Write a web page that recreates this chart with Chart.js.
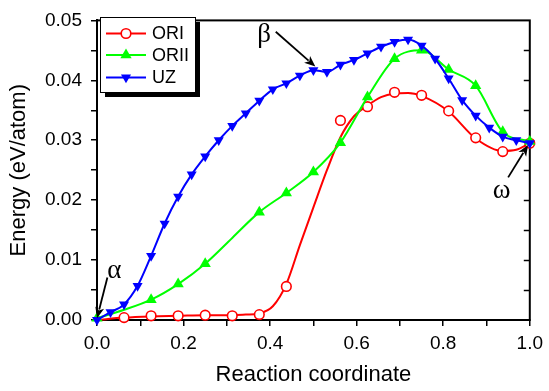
<!DOCTYPE html>
<html>
<head>
<meta charset="utf-8">
<script src="https://cdn.jsdelivr.net/npm/chart.js@4/dist/chart.umd.min.js"></script>
<style>
  html, body { margin: 0; padding: 0; background: #fff; }
  #wrap { width: 549px; height: 391px; }
</style>
</head>
<body>
<div id="wrap"><canvas id="c" width="549" height="391"></canvas></div>
<script>
// ---------- DATA ----------
const seriesNames = ['ORI', 'ORII', 'UZ'];

// ORI: open-circle markers
const oriX = [0.0625, 0.125, 0.1875, 0.25, 0.3125, 0.375, 0.4375, 0.5625, 0.625, 0.6875, 0.75, 0.8125, 0.875, 0.9375, 1.0];
const oriY = [0.0004, 0.0007, 0.0007, 0.0008, 0.0007, 0.0009, 0.0056, 0.0333, 0.0356, 0.0380, 0.0375, 0.0349, 0.0304, 0.0281, 0.0295];
// ORI: smooth fitted curve
const oriCurveX = [0, 0.0625, 0.125, 0.1875, 0.25, 0.3125, 0.34375, 0.375, 0.40625, 0.4375, 0.46875, 0.5, 0.53125, 0.5625, 0.59375, 0.625, 0.65625, 0.6875, 0.71875, 0.75, 0.8125, 0.875, 0.9375, 0.96875, 1.0];
const oriCurveY = [0, 0.0004, 0.0006, 0.0007, 0.0008, 0.0008, 0.0009, 0.0011, 0.0023, 0.0060, 0.0125, 0.0188, 0.0250, 0.0305, 0.0340, 0.0358, 0.0372, 0.0378, 0.0379, 0.0374, 0.0348, 0.0303, 0.0282, 0.0284, 0.0295];

// ORII: triangle-up markers (markerShown = 0 where no marker is visible)
const oriiX = [0, 0.0625, 0.125, 0.1875, 0.25, 0.3125, 0.375, 0.4375, 0.5, 0.5625, 0.625, 0.6875, 0.75, 0.8125, 0.875, 0.9375, 1.0];
const oriiY = [0.0003, 0.0017, 0.0034, 0.0060, 0.0094, 0.0137, 0.0180, 0.0212, 0.0247, 0.0296, 0.0372, 0.0436, 0.0450, 0.0418, 0.0391, 0.0314, 0.0298];
const oriiMarkerShown = [1, 0, 1, 1, 1, 0, 1, 1, 1, 1, 1, 1, 1, 1, 1, 1, 1];

// UZ: triangle-down markers
const uzX = [0, 0.03125, 0.0625, 0.09375, 0.125, 0.15625, 0.1875, 0.21875, 0.25, 0.28125, 0.3125, 0.34375, 0.375, 0.40625, 0.4375, 0.46875, 0.5, 0.53125, 0.5625, 0.59375, 0.625, 0.65625, 0.6875, 0.71875, 0.75, 0.78125, 0.8125, 0.84375, 0.875, 0.90625, 0.9375, 0.96875, 1.0];
const uzY = [0, 0.0013, 0.0026, 0.0057, 0.0107, 0.0161, 0.0206, 0.0243, 0.0273, 0.0300, 0.0324, 0.0345, 0.0366, 0.0385, 0.0395, 0.0408, 0.0417, 0.0414, 0.0426, 0.0434, 0.0445, 0.0456, 0.0464, 0.0468, 0.0458, 0.0436, 0.0403, 0.0367, 0.0341, 0.0321, 0.0306, 0.0300, 0.0295];

// Annotations (data coordinates): label, text position, arrow start, arrow tip
const annLabels = ['α', 'β', 'ω'];
const annText  = [[0.040, 0.0082], [0.386, 0.0475], [0.935, 0.0216]];
const annFrom  = [[0.024, 0.0071], [0.413, 0.0481], [0.950, 0.0238]];
const annTo    = [[0.000, 0.0003], [0.5045, 0.0423], [0.996, 0.0292]];

const xTickLabels = ['0.0', '0.2', '0.4', '0.6', '0.8', '1.0'];
const yTickLabels = ['0.00', '0.01', '0.02', '0.03', '0.04', '0.05'];

// ---------- STYLE ----------
const RED = '#ff0000', GREEN = '#00ff00', BLUE = '#0000ff';
const FONT = '"Liberation Sans", Arial, sans-serif';

const pts = (xs, ys) => xs.map((x, i) => ({ x: x, y: ys[i] }));

function drawArrow(ctx, x1, y1, x2, y2) {
  const ang = Math.atan2(y2 - y1, x2 - x1);
  const hl = 11, hw = 4.5;
  const bx = x2 - hl * Math.cos(ang), by = y2 - hl * Math.sin(ang);
  ctx.beginPath();
  ctx.moveTo(x1, y1);
  ctx.lineTo(bx + 2 * Math.cos(ang), by + 2 * Math.sin(ang));
  ctx.lineWidth = 1.8;
  ctx.strokeStyle = '#000';
  ctx.stroke();
  ctx.beginPath();
  ctx.moveTo(x2, y2);
  ctx.lineTo(bx + hw * Math.sin(ang), by - hw * Math.cos(ang));
  ctx.lineTo(bx + 3 * Math.cos(ang), by + 3 * Math.sin(ang));
  ctx.lineTo(bx - hw * Math.sin(ang), by + hw * Math.cos(ang));
  ctx.closePath();
  ctx.fillStyle = '#000';
  ctx.fill();
}

const framePlugin = {
  id: 'frame',
  beforeDatasetsDraw(chart) {
    const { ctx, chartArea: a, scales } = chart;
    ctx.save();
    ctx.strokeStyle = '#000';
    ctx.lineWidth = 2;
    ctx.strokeRect(a.left, a.top, a.right - a.left, a.bottom - a.top);
    // inward ticks on the right axis
    ctx.lineWidth = 1.5;
    const ys = scales.y;
    for (let i = 1; i < 10; i++) {
      const py = Math.round(ys.getPixelForValue(i * 0.005)) + 0.5;
      ctx.beginPath();
      ctx.moveTo(a.right, py);
      ctx.lineTo(a.right - 6, py);
      ctx.stroke();
    }
    ctx.restore();
  },
  afterDraw(chart) {
    const { ctx, scales } = chart;
    const xs = scales.x, ys = scales.y;
    ctx.save();
    // annotations
    ctx.font = '27px "Liberation Serif", "Times New Roman", serif';
    ctx.fillStyle = '#000';
    ctx.textAlign = 'center';
    ctx.textBaseline = 'middle';
    for (let i = 0; i < annLabels.length; i++) {
      ctx.fillText(annLabels[i], xs.getPixelForValue(annText[i][0]), ys.getPixelForValue(annText[i][1]));
      drawArrow(ctx,
        xs.getPixelForValue(annFrom[i][0]), ys.getPixelForValue(annFrom[i][1]),
        xs.getPixelForValue(annTo[i][0]), ys.getPixelForValue(annTo[i][1]));
    }
    // legend box
    const L = 100, T = 17, W = 95, H = 75, S = 5;
    ctx.fillStyle = '#000';
    ctx.fillRect(L + S, T + S, W, H);
    ctx.fillStyle = '#fff';
    ctx.fillRect(L, T, W, H);
    ctx.strokeStyle = '#000';
    ctx.lineWidth = 1;
    ctx.strokeRect(L + 0.5, T + 0.5, W, H);
    const rowY = [33.5, 55, 77.5];
    const cols = [RED, GREEN, BLUE];
    ctx.font = '18px ' + FONT;
    ctx.textAlign = 'left';
    ctx.textBaseline = 'middle';
    for (let i = 0; i < 3; i++) {
      const y = rowY[i];
      ctx.strokeStyle = cols[i];
      ctx.lineWidth = 2;
      ctx.beginPath();
      ctx.moveTo(106, y);
      ctx.lineTo(146, y);
      ctx.stroke();
      ctx.beginPath();
      if (i === 0) {
        ctx.arc(126, y, 4.8, 0, Math.PI * 2);
        ctx.fillStyle = '#fff';
        ctx.fill();
        ctx.lineWidth = 1.6;
        ctx.stroke();
      } else {
        const r = i === 1 ? 6.5 : 5.8;
        const dir = i === 1 ? -1 : 1;
        ctx.moveTo(126, y + dir * r);
        ctx.lineTo(126 + r * 0.866, y - dir * r * 0.5);
        ctx.lineTo(126 - r * 0.866, y - dir * r * 0.5);
        ctx.closePath();
        ctx.fillStyle = cols[i];
        ctx.fill();
      }
      ctx.fillStyle = '#000';
      ctx.fillText(seriesNames[i], 152, y + 1);
    }
    ctx.restore();
  }
};

new Chart(document.getElementById('c'), {
  type: 'scatter',
  data: {
    datasets: [
      {
        label: seriesNames[2],
        data: pts(uzX, uzY),
        showLine: true,
        borderColor: BLUE,
        backgroundColor: BLUE,
        borderWidth: 2,
        pointStyle: 'triangle',
        rotation: 180,
        pointRadius: 5.8,
        pointBorderWidth: 0,
        cubicInterpolationMode: 'monotone',
        clip: false,
        order: 0
      },
      {
        label: seriesNames[1],
        data: pts(oriiX, oriiY),
        showLine: true,
        borderColor: GREEN,
        backgroundColor: GREEN,
        borderWidth: 2,
        pointStyle: 'triangle',
        pointRadius: oriiMarkerShown.map(s => s ? 6.5 : 0),
        pointBorderWidth: 0,
        cubicInterpolationMode: 'monotone',
        clip: false,
        order: 1
      },
      {
        label: seriesNames[0] + ' markers',
        data: pts(oriX, oriY),
        showLine: false,
        borderColor: RED,
        backgroundColor: '#fff',
        pointStyle: 'circle',
        pointRadius: 4.8,
        pointBorderWidth: 1.6,
        clip: false,
        order: 2
      },
      {
        label: seriesNames[0],
        data: pts(oriCurveX, oriCurveY),
        showLine: true,
        borderColor: RED,
        borderWidth: 2,
        pointRadius: 0,
        cubicInterpolationMode: 'monotone',
        clip: false,
        order: 3
      }
    ]
  },
  options: {
    responsive: false,
    devicePixelRatio: 1,
    animation: false,
    events: [],
    layout: { padding: { top: 15, right: 14, left: 0, bottom: 0 } },
    plugins: { legend: { display: false }, tooltip: { enabled: false } },
    scales: {
      x: {
        type: 'linear',
        min: 0, max: 1,
        afterFit: s => { s.height = 71; },
        border: { display: true, color: '#000', width: 2 },
        grid: { drawOnChartArea: false, drawTicks: true, tickLength: 6, color: '#000', lineWidth: 1.5 },
        ticks: {
          stepSize: 0.1,
          autoSkip: false,
          maxRotation: 0,
          padding: 6,
          color: '#000',
          font: { family: FONT, size: 19 },
          callback: v => { const k = Math.round(v * 10); return k % 2 === 0 ? xTickLabels[k / 2] : ''; }
        },
        title: { display: true, text: 'Reaction coordinate', color: '#000', font: { family: FONT, size: 22 }, padding: { top: 0, bottom: 3 } }
      },
      y: {
        type: 'linear',
        min: 0, max: 0.05,
        afterFit: s => { s.width = 97; },
        border: { display: true, color: '#000', width: 2 },
        grid: { drawOnChartArea: false, drawTicks: true, tickLength: 6, color: '#000', lineWidth: 1.5 },
        ticks: {
          stepSize: 0.005,
          autoSkip: false,
          padding: 9,
          color: '#000',
          font: { family: FONT, size: 19 },
          callback: v => { const k = Math.round(v * 200); return k % 2 === 0 ? yTickLabels[k / 2] : ''; }
        },
        title: { display: true, text: 'Energy (eV/atom)', color: '#000', font: { family: FONT, size: 22 }, padding: { top: 6, bottom: 0 } }
      }
    }
  },
  plugins: [framePlugin]
});
</script>
</body>
</html>
